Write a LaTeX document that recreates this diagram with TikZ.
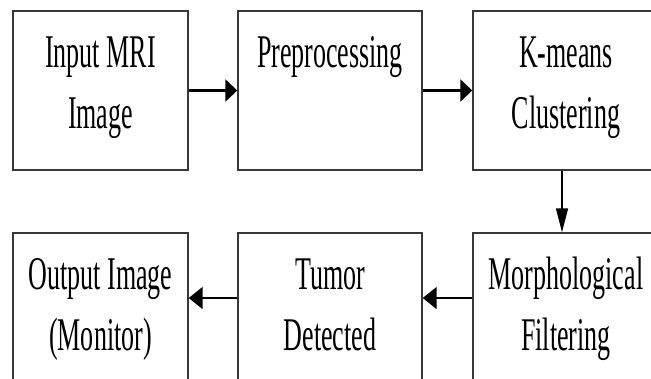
\documentclass[tikz,border=0pt]{standalone}
\usepackage{fontspec}
\setmainfont{Liberation Serif}
\newfontfamily\boxfont[FakeStretch=0.555]{Liberation Serif}
\usetikzlibrary{arrows.meta,fit,calc}

\begin{document}
\begin{tikzpicture}[x=0.03cm, y=-0.03cm,
    box/.style={draw=black!78, line width=1.2pt, inner sep=0pt},
    lbl/.style={font=\boxfont\fontsize{40}{52}\selectfont, align=center, inner sep=0pt, anchor=base},
    thickarrow/.style={line width=2.4pt, -{Triangle[length=0.36cm, width=0.66cm]}},
    thinarrow/.style={line width=1.6pt, -{Triangle[length=0.42cm, width=0.66cm]}},
    downarrow/.style={line width=1.2pt, -{Triangle[length=0.72cm, width=0.36cm]}}]
    \clip (0,0) rectangle (651,378);

    % Fila superior
    \node[box, fit={(13,11) (188,170)}] (input) {};
    \node[box, fit={(238,11) (422,170)}] (prep) {};
    \node[box, fit={(473,11) (659,170)}] (kmeans) {};

    % (la linea base es la de la ultima linea del texto)
    \node[lbl] (inputtxt) at ($(input.north)+(0,118)$) {Input MRI\\Image};
    \node[lbl] (preptxt) at ($(prep.north)+(0,57)$) {Preprocessing};
    \node[lbl] (kmeanstxt) at ($(kmeans.north)+(0,118)$) {K-means\\Clustering};

    % Fila inferior
    \node[box, fit={(13,233) (188,400)}] (output) {};
    \node[box, fit={(238,233) (422,400)}] (tumor) {};
    \node[box, fit={(473,233) (659,400)}] (morph) {};

    \node[lbl] (outputtxt) at ($(output.north)+(0,118)$) {Output Image\\(Monitor)};
    \node[lbl] (tumortxt) at ($(tumor.north)+(0,118)$) {Tumor\\Detected};
    \node[lbl] (morphtxt) at ($(morph.north)+(0,118)$) {Morphological\\Filtering};

    % Flechas
    \coordinate (lowrow) at (0,298);
    \draw[thickarrow] (input.east) -- (prep.west);
    \draw[thickarrow] (prep.east) -- (kmeans.west);
    \draw[downarrow] ($(kmeans.south)+(-4,0)$) -- ($(morph.north)+(-4,0)$);
    \draw[thinarrow] (morph.west |- lowrow) -- (tumor.east |- lowrow);
    \draw[thinarrow] (tumor.west |- lowrow) -- (output.east |- lowrow);
\end{tikzpicture}
\end{document}
